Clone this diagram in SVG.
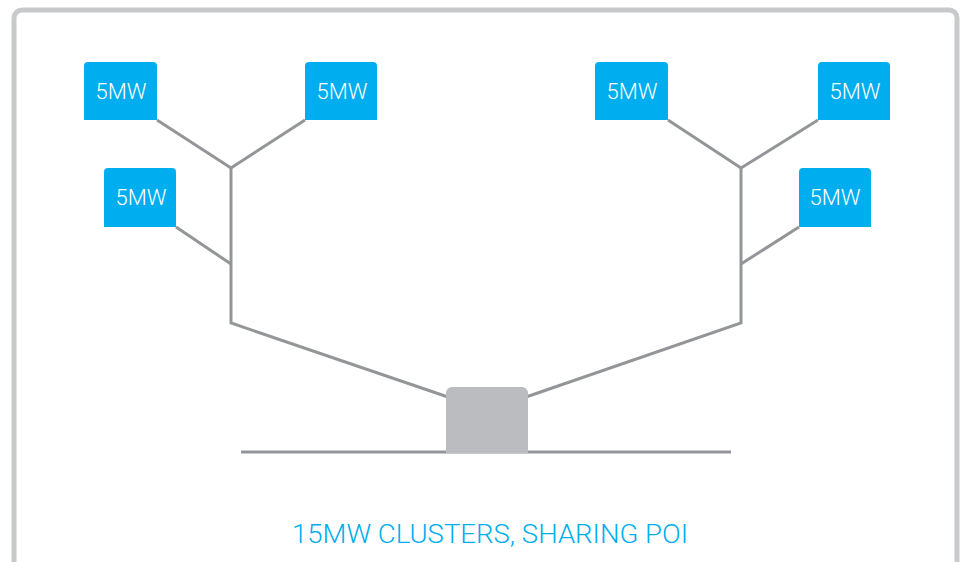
<svg xmlns="http://www.w3.org/2000/svg" width="972" height="562" viewBox="0 0 972 562">
<defs>
<style>
.frame{fill:#fff;stroke:#c8c9ca;stroke-width:5}
.box{fill:#00aeef}
.lbl{fill:#fff;font-family:Roboto,"Liberation Sans",sans-serif;font-weight:300;font-size:22px;text-anchor:middle}
.wire{fill:none;stroke:#939598;stroke-width:3;stroke-linejoin:miter}
.poi{fill:#bbbcbf}
.cap{fill:#00aeef;font-family:Roboto,"Liberation Sans",sans-serif;font-weight:300;font-size:26px;text-anchor:middle}
</style>
</defs>
<rect width="972" height="562" fill="#fff"/>
<rect class="frame" x="14" y="10" width="943" height="580" rx="8"/>
<g id="connectors">
<polyline class="wire" points="157,120 231,168 305,120"/>
<polyline class="wire" points="176,227 231,264"/>
<polyline class="wire" points="231,168 231,323 448,397"/>
<polyline class="wire" points="668,120 741,168 818,120"/>
<polyline class="wire" points="799,227 741,264"/>
<polyline class="wire" points="741,168 741,323 526,397"/>
<line class="wire" x1="241" y1="452" x2="731" y2="452"/>
</g>
<g id="n1"><path class="box" d="M84,120 V66 a4,4 0 0 1 4,-4 H153 a4,4 0 0 1 4,4 V120 Z"/><text class="lbl" x="121" y="99">5MW</text></g>
<g id="n2"><path class="box" d="M305,120 V66 a4,4 0 0 1 4,-4 H373 a4,4 0 0 1 4,4 V120 Z"/><text class="lbl" x="342" y="99">5MW</text></g>
<g id="n3"><path class="box" d="M104,227 V172 a4,4 0 0 1 4,-4 H172 a4,4 0 0 1 4,4 V227 Z"/><text class="lbl" x="141" y="205">5MW</text></g>
<g id="n4"><path class="box" d="M595,120 V66 a4,4 0 0 1 4,-4 H664 a4,4 0 0 1 4,4 V120 Z"/><text class="lbl" x="632" y="99">5MW</text></g>
<g id="n5"><path class="box" d="M818,120 V66 a4,4 0 0 1 4,-4 H886 a4,4 0 0 1 4,4 V120 Z"/><text class="lbl" x="855" y="99">5MW</text></g>
<g id="n6"><path class="box" d="M799,227 V172 a4,4 0 0 1 4,-4 H867 a4,4 0 0 1 4,4 V227 Z"/><text class="lbl" x="835" y="205">5MW</text></g>
<g id="poi"><path class="poi" d="M446,453 V393 a6,6 0 0 1 6,-6 H522 a6,6 0 0 1 6,6 V453 Z"/></g>
<g id="caption"><text class="cap" x="490" y="543" textLength="396" lengthAdjust="spacingAndGlyphs">15MW CLUSTERS, SHARING POI</text></g>
</svg>
